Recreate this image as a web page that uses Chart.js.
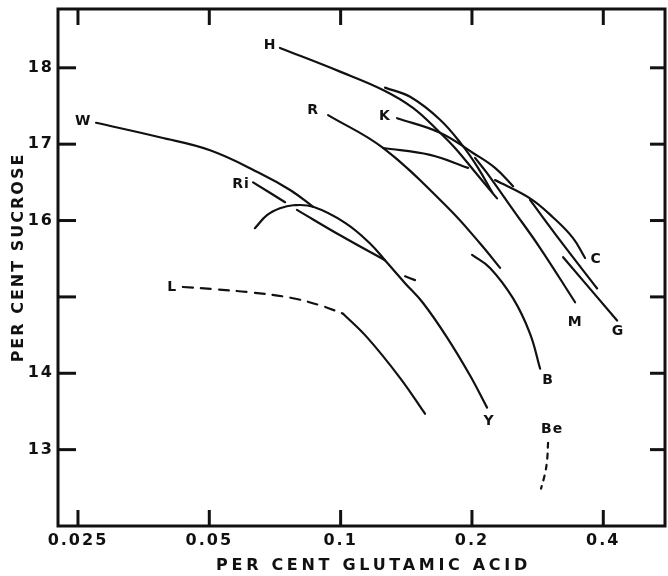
<!DOCTYPE html>
<html>
<head>
<meta charset="utf-8">
<script src="https://cdn.jsdelivr.net/npm/chart.js@4.4.0/dist/chart.umd.min.js"></script>
<style>
  html, body { margin: 0; padding: 0; background: #fff; }
  #wrap { width: 668px; height: 576px; }
</style>
</head>
<body>
<div id="wrap"><canvas id="chart" width="668" height="576"></canvas></div>
<script>
// axis ticks
const xTicks = [0.025, 0.05, 0.1, 0.2, 0.4];
const xTickLabels = ['0.025', '0.05', '0.1', '0.2', '0.4'];
const yTicks = [13, 14, 15, 16, 17, 18];
const yTickLabels = ['13', '14', '', '16', '17', '18'];
const xTitle = 'PER CENT GLUTAMIC ACID';
const yTitle = 'PER CENT SUCROSE';

// curves, [glutamic acid %, sucrose %]
const curveW = [[0.0275, 17.28], [0.0385, 17.09], [0.0502, 16.92], [0.0653, 16.62], [0.0766, 16.40], [0.0865, 16.18]];
const curveRi1 = [[0.063, 16.50], [0.0746, 16.24]];
const curveRi2 = [[0.0794, 16.14], [0.1002, 15.80], [0.1264, 15.48]];
const curveRi3 = [[0.1405, 15.27], [0.1481, 15.22]];
const curveY = [[0.0636, 15.90], [0.0678, 16.07], [0.0726, 16.16], [0.0778, 16.20], [0.0865, 16.18], [0.1024, 15.97],
  [0.1168, 15.70], [0.1277, 15.45], [0.1405, 15.18], [0.1545, 14.92], [0.1753, 14.47], [0.198, 13.97], [0.2166, 13.55]];
const curveLdash = [[0.0435, 15.13], [0.0515, 15.10], [0.062, 15.06], [0.0766, 14.99], [0.0897, 14.89], [0.1013, 14.78]];
const curveL = [[0.1013, 14.78], [0.115, 14.47], [0.1368, 13.94], [0.1561, 13.47]];
const curveH = [[0.0726, 18.26], [0.0997, 17.95], [0.1251, 17.71], [0.1465, 17.475], [0.169, 17.15], [0.1829, 16.95],
  [0.2033, 16.635], [0.2283, 16.29]];
const curveArc = [[0.1264, 17.74], [0.1443, 17.62], [0.169, 17.32], [0.1898, 16.99], [0.2065, 16.69], [0.2225, 16.37]];
const curveK = [[0.1347, 17.34], [0.169, 17.15], [0.2011, 16.885], [0.2259, 16.69], [0.2485, 16.45]];
const curveFlat = [[0.1251, 16.95], [0.1603, 16.86], [0.1959, 16.69]];
const curveR = [[0.0936, 17.38], [0.1251, 16.95], [0.1753, 16.18], [0.2088, 15.70], [0.232, 15.38]];
const curveM = [[0.2033, 16.82], [0.2166, 16.62], [0.2485, 16.14], [0.2866, 15.64], [0.3447, 14.93]];
const curveC = [[0.2259, 16.53], [0.2717, 16.29], [0.3069, 16.04], [0.341, 15.77], [0.3633, 15.51]];
const curveCG = [[0.2717, 16.27], [0.3184, 15.74], [0.3872, 15.11]];
const curveG = [[0.3236, 15.52], [0.4302, 14.69]];
const curveB = [[0.2001, 15.55], [0.22, 15.38], [0.2485, 14.98], [0.2717, 14.52], [0.2866, 14.06]];
const curveBe = [[0.2989, 13.09], [0.2973, 12.86], [0.2942, 12.69], [0.288, 12.49]];

// curve letters
const letterText = ['H', 'R', 'K', 'W', 'Ri', 'L', 'C', 'M', 'G', 'B', 'Y', 'Be'];
const letterX = [0.0689, 0.0865, 0.1264, 0.0257, 0.0591, 0.0411, 0.385, 0.3447, 0.4325, 0.2989, 0.2188, 0.3053];
const letterY = [18.29, 17.44, 17.36, 17.30, 16.48, 15.13, 15.49, 14.67, 14.55, 13.91, 13.37, 13.26];

const ink = '#111';
const font = 'DejaVu Sans';

const segments = [
  { pts: curveW }, { pts: curveRi1 }, { pts: curveRi2 }, { pts: curveRi3 }, { pts: curveY },
  { pts: curveLdash, dash: [10, 8] }, { pts: curveL }, { pts: curveH }, { pts: curveArc },
  { pts: curveK }, { pts: curveFlat }, { pts: curveR }, { pts: curveM }, { pts: curveC },
  { pts: curveCG }, { pts: curveG }, { pts: curveB }, { pts: curveBe, dash: [5, 6] }
];

function line(ctx, x1, y1, x2, y2) {
    ctx.beginPath();
    ctx.moveTo(x1, y1);
    ctx.lineTo(x2, y2);
    ctx.stroke();
}

const sketchPlugin = {
    id: 'sketch',
    beforeDraw(chart) {
        chart.ctx.letterSpacing = '2px';
    },
    afterDraw(chart) {
        const ctx = chart.ctx;
        const a = chart.chartArea;
        const xs = chart.scales.x;
        const ys = chart.scales.y;
        ctx.save();
        ctx.letterSpacing = '0px';
        ctx.strokeStyle = ink;
        ctx.lineWidth = 3;
        ctx.strokeRect(a.left, a.top, a.right - a.left, a.bottom - a.top);
        xTicks.forEach((v) => {
            const px = xs.getPixelForValue(v);
            line(ctx, px, a.top, px, a.top + 16);
            line(ctx, px, a.bottom, px, a.bottom - 16);
        });
        yTicks.forEach((v) => {
            const py = ys.getPixelForValue(v);
            line(ctx, a.left, py, a.left + 18, py);
            line(ctx, a.right, py, a.right - 15, py);
        });

        ctx.fillStyle = ink;
        ctx.textAlign = 'center';
        ctx.textBaseline = 'middle';
        ctx.font = 'bold 14px "' + font + '"';
        ctx.letterSpacing = '1px';
        letterText.forEach((t, i) => {
            ctx.fillText(t, xs.getPixelForValue(letterX[i]), ys.getPixelForValue(letterY[i]));
        });

        ctx.font = 'bold 16px "' + font + '"';
        ctx.letterSpacing = '3.7px';
        ctx.fillText(xTitle, (a.left + a.right) / 2 + 12, 566);

        ctx.letterSpacing = '2px';
        ctx.translate(19, (a.top + a.bottom) / 2 - 10);
        ctx.rotate(-Math.PI / 2);
        ctx.fillText(yTitle, 0, 0);
        ctx.restore();
    }
};

const tickFont = { family: font, weight: 'bold', size: 16 };

new Chart(document.getElementById('chart'), {
    type: 'line',
    data: {
        datasets: segments.map((s) => ({
            data: s.pts.map((p) => ({ x: p[0], y: p[1] })),
            borderColor: ink,
            borderWidth: 2.2,
            borderDash: s.dash || [],
            borderCapStyle: 'round',
            pointRadius: 0,
            tension: 0.4,
            fill: false
        }))
    },
    options: {
        responsive: false,
        devicePixelRatio: 1,
        animation: false,
        layout: { padding: { top: 9, right: 3, left: 0, bottom: 0 } },
        plugins: {
            legend: { display: false },
            tooltip: { enabled: false },
            title: { display: false }
        },
        scales: {
            x: {
                type: 'logarithmic',
                position: 'bottom',
                min: 0.0225,
                max: 0.554,
                afterBuildTicks: (s) => { s.ticks = xTicks.map((v) => ({ value: v })); },
                afterFit: (s) => {
                    s.height = 50;
                    s.paddingLeft = 0;
                    s.paddingRight = 0;
                },
                grid: { display: false, drawTicks: false, tickLength: 0 },
                border: { display: false },
                ticks: {
                    color: ink,
                    font: tickFont,
                    padding: 5,
                    maxRotation: 0,
                    autoSkip: false,
                    callback: (v) => xTickLabels[xTicks.indexOf(v)]
                }
            },
            y: {
                type: 'linear',
                min: 12,
                max: 18.77,
                afterBuildTicks: (s) => { s.ticks = yTicks.map((v) => ({ value: v })); },
                afterFit: (s) => {
                    s.width = 58;
                    s.paddingTop = 0;
                    s.paddingBottom = 0;
                },
                grid: { display: false, drawTicks: false, tickLength: 0 },
                border: { display: false },
                ticks: {
                    color: ink,
                    font: tickFont,
                    padding: 4,
                    autoSkip: false,
                    callback: (v) => yTickLabels[yTicks.indexOf(v)]
                }
            }
        }
    },
    plugins: [sketchPlugin]
});
</script>
</body>
</html>
